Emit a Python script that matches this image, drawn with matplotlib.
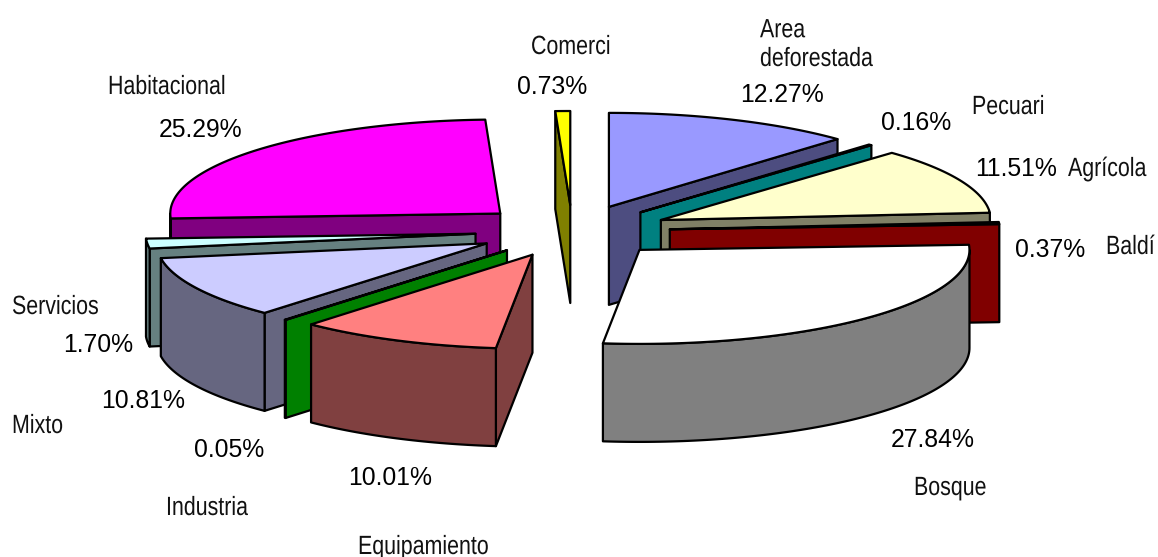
#!/usr/bin/env python3
"""
Land use shares as an exploded 3D-style pie, drawn from flat polygons.
"""
import numpy as np
import matplotlib
matplotlib.use('Agg')
import matplotlib.pyplot as plt
from matplotlib.patheffects import AbstractPathEffect
from matplotlib.transforms import Affine2D

# ---- data, clockwise from 12 o'clock ----
names = ['Area\ndeforestada', 'Pecuari', 'Agrícola', 'Baldí', 'Bosque', 'Equipamiento',
         'Industria', 'Mixto', 'Servicios', 'Habitacional', 'Comerci']
shares = [12.27, 0.16, 11.51, 0.37, 27.84, 10.01, 0.05, 10.81, 1.70, 25.29, 0.73]
top_colors = ['#9999FF', '#00FFFF', '#FFFFCC', '#FF0000', '#FFFFFF', '#FF8080',
              '#00FF00', '#CCCCFF', '#CCFFFF', '#FF00FF', '#FFFF00']
side_colors = ['#4D4D80', '#008080', '#808066', '#800000', '#808080', '#804040',
               '#008000', '#666680', '#668080', '#800080', '#808000']

# label anchors on the canvas: names left/baseline, percentages centred
name_xy = [(760, 66), (972, 114), (1068, 176), (1106, 254), (914, 495), (358, 554),
           (166, 515), (12, 433), (12, 314), (108, 94), (531, 54)]
pct_xy = [(782, 95), (916, 123), (1016, 169), (1050, 250), (933, 440), (390, 478),
          (229, 450), (143, 401), (98, 345), (201, 130), (552, 87)]

# ---- pie geometry (canvas pixels) ----
CX, CY = 572.5, 231
RX, RY = 330, 94
EX, EY = 97.5, 26    # explosion along each slice's middle direction
DEPTH = 98
LW = 1.6


class Squeeze(AbstractPathEffect):
    """Condense glyphs horizontally, there is no narrow face installed."""

    def __init__(self, sx):
        super().__init__()
        self.sx = sx

    def draw_path(self, renderer, gc, tpath, affine, rgbFace=None):
        renderer.draw_path(gc, tpath, Affine2D().scale(self.sx, 1) + affine, rgbFace)


fig = plt.figure(figsize=(11.58, 5.57), dpi=100)
ax = fig.add_axes([0, 0, 1, 1])
ax.set_xlim(0, 1158)
ax.set_ylim(557, 0)
ax.axis('off')


def rim(apex, a0, a1):
    t = np.radians(np.linspace(a0, a1, max(2, int(abs(a1 - a0)) + 2)))
    return np.column_stack([apex[0] + RX * np.sin(t), apex[1] - RY * np.cos(t)])


def draw_poly(pts, color):
    ax.fill(pts[:, 0], pts[:, 1], facecolor=color, edgecolor='black', linewidth=LW,
            joinstyle='round')


def cut_face(apex, angle, color):
    p = rim(apex, angle, angle)[0]
    draw_poly(np.array([apex, p, p + [0, DEPTH], np.array(apex) + [0, DEPTH]]), color)


edges = np.concatenate([[0], np.cumsum(shares)]) / np.sum(shares) * 360
slices = []
for i in range(len(shares)):
    a0, a1 = edges[i], edges[i + 1]
    mid = np.radians((a0 + a1) / 2)
    apex = (CX + EX * np.sin(mid), CY - EY * np.cos(mid))
    slices.append((apex, a0, a1, i))

# back to front
slices.sort(key=lambda s: s[0][1])
for apex, a0, a1, i in slices:
    # only faces turned to the viewer
    if np.sin(np.radians(a0)) < 0:
        cut_face(apex, a0, side_colors[i])
    if np.sin(np.radians(a1)) > 0:
        cut_face(apex, a1, side_colors[i])
    w0, w1 = max(a0, 90), min(a1, 270)
    if w1 > w0:
        arc = rim(apex, w0, w1)
        draw_poly(np.vstack([arc, arc[::-1] + [0, DEPTH]]), side_colors[i])
    draw_poly(np.vstack([[apex], rim(apex, a0, a1)]), top_colors[i])

for i, name in enumerate(names):
    ax.text(*name_xy[i], name, family='Liberation Sans', fontsize=19, color='#111111',
            ha='left', va='baseline', linespacing=1.25, path_effects=[Squeeze(0.81)])
    ax.text(*pct_xy[i], f'{shares[i]:.2f}%', family='Liberation Sans', fontsize=17.8,
            color='black', ha='center', va='center')

fig.savefig('out.png', dpi=100, facecolor='white')
